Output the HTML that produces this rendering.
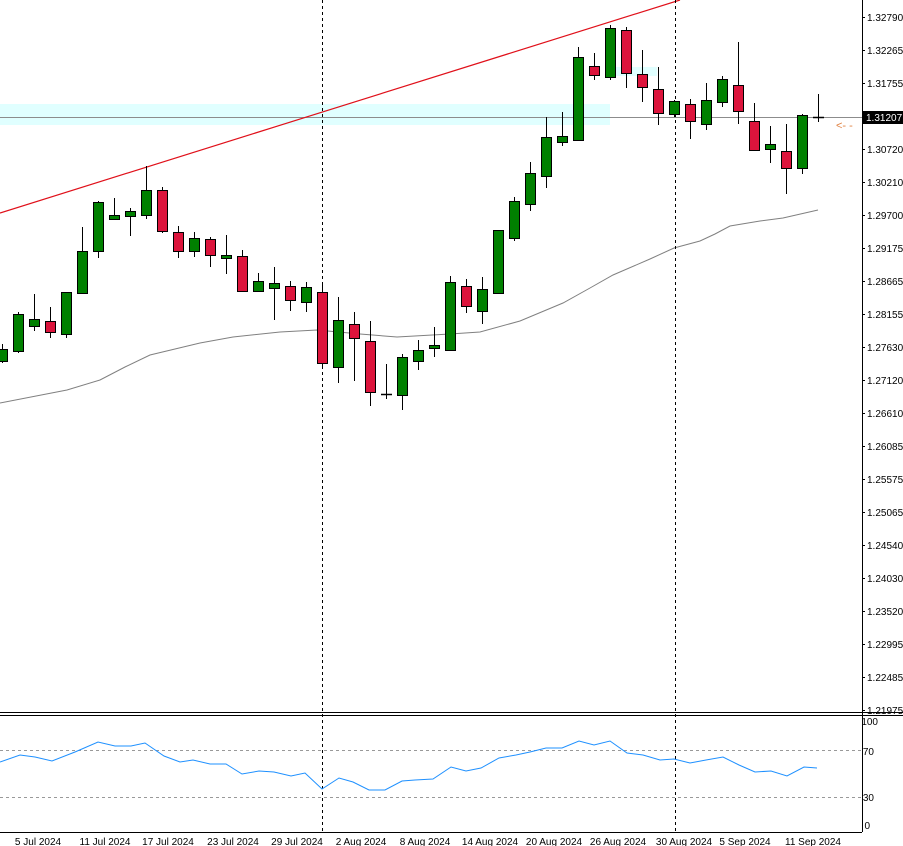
<!DOCTYPE html>
<html><head><meta charset="utf-8"><style>
html,body{margin:0;padding:0;background:#fff;}
svg{display:block;font-family:"Liberation Sans",sans-serif;}
</style></head><body>
<svg id="s" width="903" height="846" xmlns="http://www.w3.org/2000/svg">
<rect x="0" y="0" width="903" height="846" fill="#fff"/>
<rect x="0" y="104" width="610" height="21" fill="#e0ffff"/>
<rect x="610" y="67" width="47" height="9" fill="#e0ffff"/>
<line x1="0" y1="117.5" x2="862" y2="117.5" stroke="#8c8c8c" stroke-width="1"/>
<line x1="0" y1="213" x2="680" y2="0" stroke="#e0101a" stroke-width="1.2"/>
<polyline fill="none" stroke="#808080" stroke-width="1" points="0,403 67,390 100,380 125,367 150,355 200,343 233,337 280,332 317,330 360,334 397,337 450,334 480,332 520,321 563,303 590,288 613,275 650,259 674,248 700,241 715,234 730,226 760,221 783,218 818,210"/>
<line x1="322.5" y1="0" x2="322.5" y2="832" stroke="#000" stroke-dasharray="3,3"/>
<line x1="675.5" y1="0" x2="675.5" y2="832" stroke="#000" stroke-dasharray="3,3"/>
<g id="c"></g>
<line x1="862.5" y1="0" x2="862.5" y2="832" stroke="#000"/>
<line x1="0" y1="712.5" x2="903" y2="712.5" stroke="#000"/>
<line x1="0" y1="715.5" x2="903" y2="715.5" stroke="#000"/>
<line x1="0" y1="832.5" x2="862" y2="832.5" stroke="#000"/>
<line x1="0" y1="750.5" x2="862" y2="750.5" stroke="#999" stroke-dasharray="3,3"/>
<line x1="0" y1="797.5" x2="862" y2="797.5" stroke="#999" stroke-dasharray="3,3"/>
<polyline fill="none" stroke="#1e90ff" stroke-width="1" points="0,762 20,755 35,757 52,761 75,752 98,742 115,746 131,746 145,743 164,756 180,762 193,760 210,764 226,764 242,774 259,771 274,772 291,776 305,773 322,789 339,778 353,782 369,790 385,790 402,781 415,780 433,779 451,767 466,771 481,768 499,758 516,755 530,752 546,748 562,748 579,741 594,745 610,741 627,753 643,755 660,760 674,759 690,763 706,760 723,757 739,765 755,772 771,771 787,776 804,767 817,768"/>
<g id="ax" font-size="10" fill="#000"></g>
<rect x="862" y="111" width="41" height="13" fill="#000"/>
<text x="866" y="121" font-size="10" fill="#fff">1.31207</text>
<text x="836" y="129" font-size="11" fill="#e08040">&lt;- -</text>
<g font-size="10" text-anchor="end">
<text x="878" y="725">100</text><text x="874" y="755">70</text><text x="874" y="801">30</text><text x="870" y="829">0</text>
</g>
<g font-size="10" text-anchor="middle">
<text x="38" y="845">5 Jul 2024</text><text x="105" y="845">11 Jul 2024</text><text x="168" y="845">17 Jul 2024</text><text x="233" y="845">23 Jul 2024</text><text x="297" y="845">29 Jul 2024</text><text x="361" y="845">2 Aug 2024</text><text x="425" y="845">8 Aug 2024</text><text x="490" y="845">14 Aug 2024</text><text x="554" y="845">20 Aug 2024</text><text x="618" y="845">26 Aug 2024</text><text x="684" y="845">30 Aug 2024</text><text x="745" y="845">5 Sep 2024</text><text x="813" y="845">11 Sep 2024</text>
</g>
</svg>
<script>
var d=[
['g',349,361,344,363],['g',314,351,312,353],['g',319,326,294,331],['r',321,332,307,338],['g',292,334,292,338],['g',251,293,227,293],['g',202,251,201,258],['g',215,219,198,219],['g',211,216,208,236],['g',190,215,166,219],['r',190,231,187,233],['r',232,251,226,258],['g',238,251,232,257],['r',239,255,237,267],['g',255,258,235,274],['r',256,291,250,291],['g',281,291,273,291],['g',283,288,267,320],['r',286,300,281,311],['g',287,302,282,312],['r',292,363,282,368],['g',320,367,297,383],['r',324,338,312,381],['r',341,392,321,406],['d',394,394,364,399],['g',357,395,354,410],['g',350,361,340,370],['g',345,348,327,357],['g',282,350,276,350],['r',286,306,279,313],['g',289,311,277,324],['g',230,293,230,293],['g',201,238,197,241],['g',173,204,162,211],['g',137,176,117,188],['g',136,142,112,146],['g',57,140,47,141],['r',66,75,53,80],['g',28,77,25,80],['r',30,73,27,88],['r',74,87,50,102],['r',89,113,67,125],['g',101,114,100,117],['r',104,121,99,139],['g',100,124,83,130],['g',79,102,76,107],['r',85,111,42,124],['r',121,150,103,151],['g',144,149,126,163],['r',151,168,124,194],['g',115,168,114,174],['d',117,117,94,122]];
var h='';
d.forEach(function(c,i){var x=2+16*i;
h+='<line x1="'+(x+.5)+'" y1="'+c[3]+'" x2="'+(x+.5)+'" y2="'+c[4]+'" stroke="#000"/>';
if(c[0]=='d'){h+='<line x1="'+(x-5)+'" y1="'+(c[1]+.5)+'" x2="'+(x+6)+'" y2="'+(c[1]+.5)+'" stroke="#000" stroke-width="1.5"/>';}
else h+='<rect x="'+(x-4.5)+'" y="'+(c[1]+.5)+'" width="10" height="'+Math.max(c[2]-c[1],2)+'" fill="'+(c[0]=='g'?'#008000':'#dc143c')+'" stroke="#000"/>';});
document.getElementById('c').innerHTML=h;
var L=['1.32790','1.32265','1.31755',null,'1.30720','1.30210','1.29700','1.29175','1.28665','1.28155','1.27630','1.27120','1.26610','1.26085','1.25575','1.25065','1.24540','1.24030','1.23520','1.22995','1.22485','1.21975'];
var a='';L.forEach(function(t,i){if(!t)return;var y=17+33*i;a+='<line x1="862" y1="'+(y+.5)+'" x2="865" y2="'+(y+.5)+'" stroke="#000"/><text x="867" y="'+(y+4)+'">'+t+'</text>';});
document.getElementById('ax').innerHTML=a;
</script>
</body></html>
